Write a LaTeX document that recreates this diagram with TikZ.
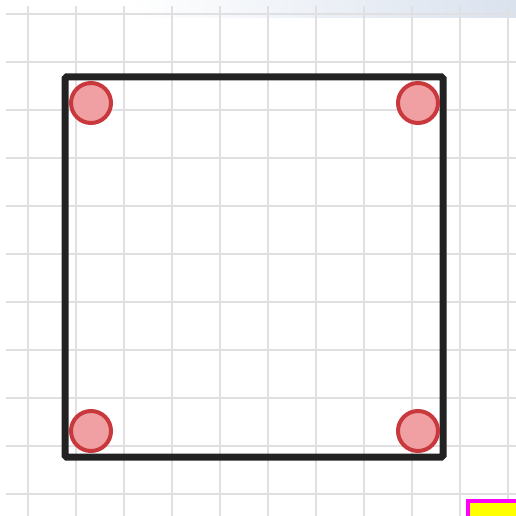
\documentclass[tikz,border=0pt]{standalone}
\definecolor{gridc}{RGB}{224,224,226}
\definecolor{framec}{RGB}{34,34,34}
\definecolor{dotline}{RGB}{200,56,60}
\definecolor{dotfill}{RGB}{240,160,162}
\definecolor{bandc}{RGB}{218,226,238}
\definecolor{magc}{RGB}{255,0,255}
\definecolor{yelc}{RGB}{255,255,0}
\begin{document}
\begin{tikzpicture}[x=1pt,y=-1pt,
  gridline/.style={draw=gridc,line width=1.3pt},
  frame/.style={draw=framec,line width=7pt,rounded corners=1.5pt},
  dot/.style={circle,draw=dotline,fill=dotfill,line width=4pt,minimum size=40pt,inner sep=0pt},
  marker/.style={draw=magc,fill=yelc,line width=4pt}]
\useasboundingbox (0,0) rectangle (516,516);
\fill[white] (0,0) rectangle (516,516);
\shade[left color=white,right color=bandc] (130,0) rectangle (516,18);
\foreach \x in {28,76,...,508} \draw[gridline] (\x,6) -- (\x,516);
\foreach \y in {14,62,...,494} \draw[gridline] (6,\y) -- (516,\y);
\draw[frame] (65,77) rectangle (443,457);
\node[dot] (c1) at (91,103) {};
\node[dot] (c2) at (418,103) {};
\node[dot] (c3) at (91,431) {};
\node[dot] (c4) at (418,431) {};
\draw[marker] (468,501) rectangle (520,520);
\end{tikzpicture}
\end{document}
